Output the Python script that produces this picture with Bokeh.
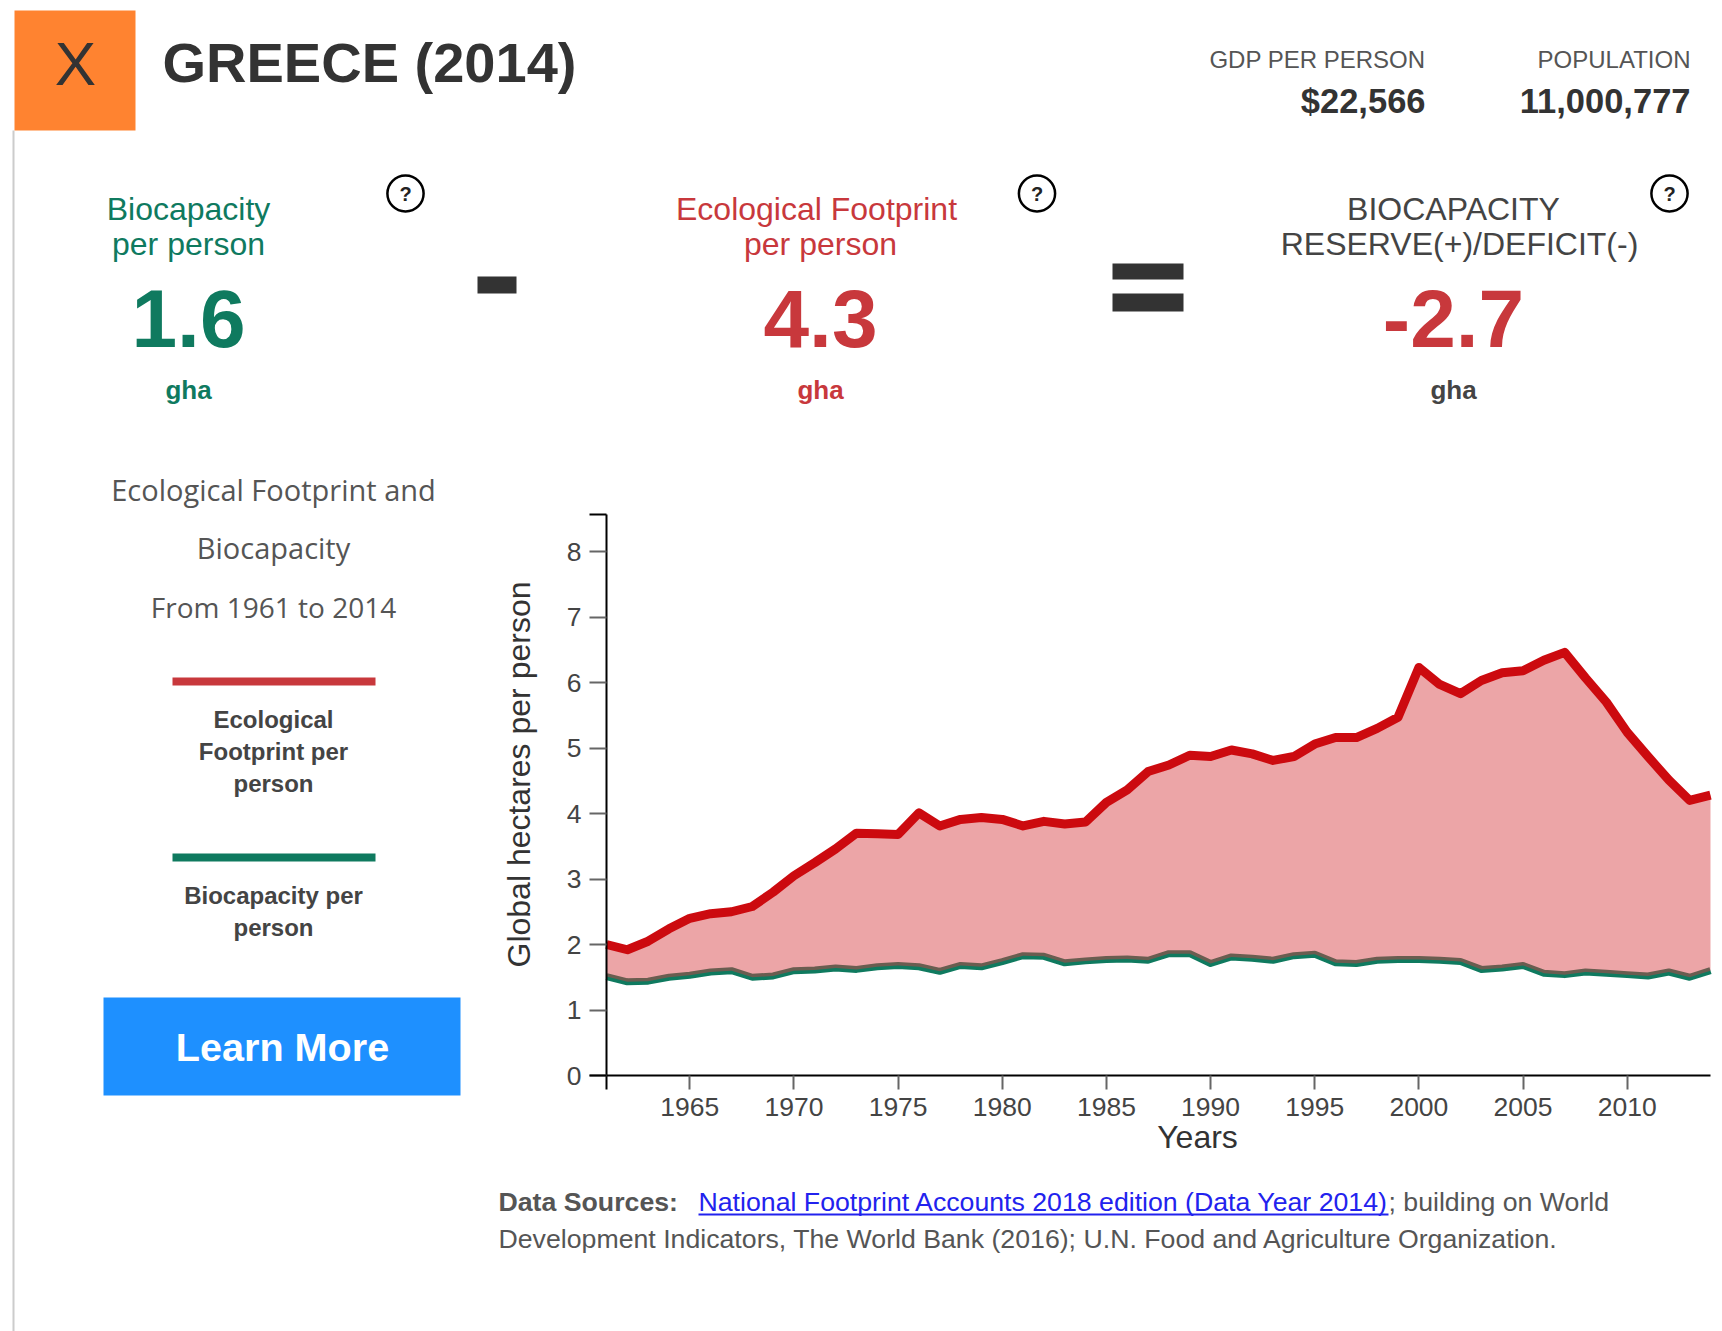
from bokeh.plotting import figure
from bokeh.models import Label, BoxAnnotation, FixedTicker, Range1d
from bokeh.embed import file_html
from bokeh.resources import INLINE

years = list(range(1961, 2015))
footprint = [2.00,1.92,2.05,2.24,2.40,2.47,2.50,2.58,2.80,3.05,3.25,3.46,3.70,3.69,3.68,4.01,3.81,3.91,3.94,3.91,
             3.81,3.88,3.84,3.87,4.17,4.36,4.64,4.74,4.89,4.87,4.97,4.91,4.81,4.87,5.06,5.16,5.16,5.30,5.47,6.23,
             5.97,5.83,6.03,6.15,6.18,6.34,6.46,6.07,5.70,5.24,4.87,4.51,4.20,4.28]
biocapacity = [1.51,1.43,1.44,1.50,1.53,1.58,1.60,1.50,1.52,1.60,1.61,1.64,1.62,1.66,1.68,1.66,1.59,1.68,1.66,1.74,
               1.83,1.82,1.72,1.75,1.77,1.78,1.76,1.86,1.86,1.71,1.81,1.79,1.76,1.83,1.85,1.72,1.71,1.76,1.77,1.77,
               1.76,1.74,1.62,1.64,1.68,1.56,1.54,1.58,1.56,1.54,1.52,1.58,1.50,1.60]
x_ticks = [1965,1970,1975,1980,1985,1990,1995,2000,2005,2010]
y_ticks = [0,1,2,3,4,5,6,7,8]
title = "GREECE (2014)"
gdp, population = "$22,566", "11,000,777"
bio_value, eco_value, res_value = "1.6", "4.3", "-2.7"

GREEN, RED, DARK, MID = "#0f7a5f", "#c8383c", "#333333", "#555555"
SANS, UI = "Liberation Sans", "Open Sans"

W, H = 1714, 1331
PX_YEAR, PX_UNIT = 20.83, 65.5
AX_X, AX_Y = 606, 1075
x0 = 1961 - AX_X / PX_YEAR
y1 = AX_Y / PX_UNIT
p = figure(width=W, height=H, output_backend="svg", toolbar_location=None,
           x_range=Range1d(x0, x0 + W / PX_YEAR), y_range=Range1d(y1 - H / PX_UNIT, y1),
           min_border=0, min_border_left=0, min_border_right=0, min_border_top=0, min_border_bottom=0)
p.outline_line_color = None
p.grid.visible = False

xa, ya = p.xaxis[0], p.yaxis[0]
xa.fixed_location = 0; ya.fixed_location = 1961
xa.bounds = (1961, 2014); ya.bounds = (0, 8.565)
xa.ticker = FixedTicker(ticks=x_ticks, minor_ticks=[1961])
ya.ticker = FixedTicker(ticks=y_ticks, minor_ticks=[0, 8.565])
for a in (xa, ya):
    a.axis_line_color = "black"; a.axis_line_width = 2
    a.major_tick_line_color = "#666666"; a.major_tick_line_width = 2
    a.minor_tick_line_color = "black"; a.minor_tick_line_width = 2
    a.major_tick_in = 0; a.minor_tick_in = 0
    a.major_label_text_font = SANS; a.major_label_text_font_size = "26.5px"
    a.major_label_text_color = "#444444"
xa.major_tick_out = 14; xa.minor_tick_out = 14; xa.major_label_standoff = 8
ya.major_tick_out = 17; ya.minor_tick_out = 17; ya.major_label_standoff = 8

p.line(years, biocapacity, line_color=GREEN, line_width=7, line_join="round")
p.varea(years, biocapacity, footprint, fill_color="#d63a40", fill_alpha=0.46)
p.line(years, footprint, line_color="#cc0a0f", line_width=9, line_join="round")

def txt(s, x, y, size, color=DARK, bold=False, align="center", font=SANS, **kw):
    p.add_layout(Label(x=x, y=y, x_units="canvas", y_units="canvas", text=s,
                       text_font=font, text_font_size=f"{size}px", text_color=color,
                       text_font_style="bold" if bold else "normal",
                       text_align=align, text_baseline="middle", **kw))

def box(l, r, t, b, color):
    p.add_layout(BoxAnnotation(left=l, right=r, top=t, bottom=b,
                               left_units="canvas", right_units="canvas",
                               top_units="canvas", bottom_units="canvas",
                               fill_color=color, fill_alpha=1, line_color=None))

box(12, 14, 130, 1331, "#cccccc")
box(14, 135, 10, 130, "#ff8330")
txt("X", 75, 63, 62)
txt(title, 162, 62, 56, bold=True, align="left")
txt("GDP PER PERSON", 1425, 59, 24, MID, align="right")
txt("POPULATION", 1690, 59, 24, MID, align="right")
txt(gdp, 1425, 100, 34.5, DARK, True, "right")
txt(population, 1690, 100, 34.5, DARK, True, "right")

txt("Biocapacity", 188, 208, 32, GREEN)
txt("per person", 188, 243, 32, GREEN)
txt(bio_value, 188, 318, 82, GREEN, True)
txt("gha", 188, 389, 26, GREEN, True)
txt("Ecological Footprint", 816, 208, 32, RED)
txt("per person", 820, 243, 32, RED)
txt(eco_value, 820, 318, 82, RED, True)
txt("gha", 820, 389, 26, RED, True)
txt("BIOCAPACITY", 1453, 208, 32, "#444444")
txt("RESERVE(+)/DEFICIT(-)", 1459, 243, 32, "#444444")
txt(res_value, 1453, 318, 82, RED, True)
txt("gha", 1453, 389, 26, "#444444", True)

box(477, 516, 276, 293, DARK)
box(1112, 1183, 263, 279, DARK)
box(1112, 1183, 293, 311, DARK)
for cx in (405, 1036.5, 1669):
    txt("?", cx, 193, 20, "#222222", True, padding=(12, 7), border_line_color="black",
        border_line_width=2.5, border_radius=18)

txt("Ecological Footprint and", 273, 489, 29, MID, font=UI)
txt("Biocapacity", 273, 547, 29, MID, font=UI)
txt("From 1961 to 2014", 273, 606, 28, MID, font=UI)
box(172, 375, 677, 685, RED)
txt("Ecological", 273, 719, 24, "#444444", True)
txt("Footprint per", 273, 751, 24, "#444444", True)
txt("person", 273, 783, 24, "#444444", True)
box(172, 375, 853, 861, GREEN)
txt("Biocapacity per", 273, 895, 24, "#444444", True)
txt("person", 273, 927, 24, "#444444", True)
box(103, 460, 997, 1095, "#1e90ff")
txt("Learn More", 282, 1046, 39.6, "white", True)

txt("Global hectares per person", 518, 774, 32, "#333333", angle=90, angle_units="deg")
txt("Years", 1197, 1136, 32, "#333333")
txt("Data Sources:", 498, 1201, 26.7, MID, True, "left")
txt("National Footprint Accounts 2018 edition (Data Year 2014)", 698, 1201, 26.7, "#2222ee", align="left")
box(698, 1388, 1213, 1215, "#2222ee")
txt("; building on World", 1388, 1201, 26.7, MID, align="left")
txt("Development Indicators, The World Bank (2016); U.N. Food and Agriculture Organization.", 498, 1238, 26.7, MID, align="left")

open("out.html", "w").write(file_html(p, INLINE))
